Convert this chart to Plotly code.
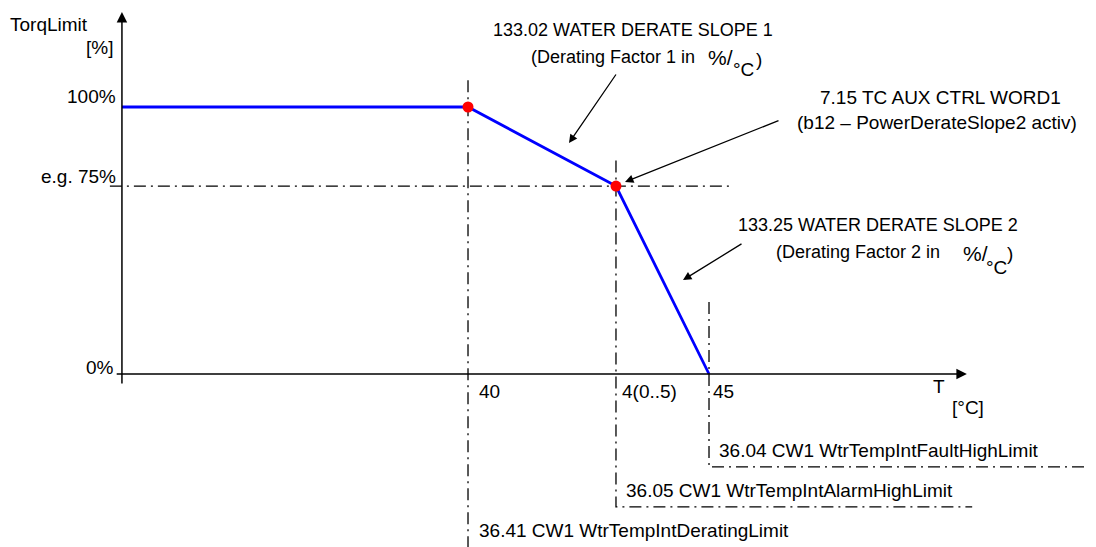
import plotly.graph_objects as go

# torque limit characteristic: temperature [°C] vs torque limit [%]
temp_pts = [32.82, 40.0, 43.07, 45.0]
torque_pts = [100, 100, 70.4, 0]

# breakpoints (red dots)
knee_temp = [40.0, 43.07]
knee_torque = [100, 70.4]

# limit temperatures
derate_T = 40.0
alarm_T = 43.07
fault_T = 45.0

y_tick_text = ["100%", "e.g. 75%", "0%"]
x_tick_text = ["40", "4(0..5)", "45"]

W, H = 1096, 547
OFF = 8  # page body margin
FONT = "Arial, Liberation Sans, sans-serif"
DASHDOT = "12px,5px,2px,5px"


def paper(px, py):
    return (px - OFF) / W, 1 - (py - OFF) / H


fig = go.Figure()

# dash-dot helper lines
ref_lines = [
    ([derate_T, derate_T], [110, -70]),
    ([alarm_T, alarm_T, 50.46], [80, -49.8, -49.8]),
    ([fault_T, fault_T, 53.3], [27, -34.8, -34.8]),
    ([32.57, 45.44], [knee_torque[1], knee_torque[1]]),
]
for xs, ys in ref_lines:
    fig.add_trace(go.Scatter(x=xs, y=ys, mode="lines", hoverinfo="skip",
                             line=dict(color="black", width=1.3, dash=DASHDOT)))

fig.add_trace(go.Scatter(x=temp_pts, y=torque_pts, mode="lines",
                         line=dict(color="#0000ff", width=2.8)))
fig.add_trace(go.Scatter(x=knee_temp, y=knee_torque, mode="markers",
                         marker=dict(color="#ff0000", size=11)))

annotations = []

# axes with arrow heads
annotations.append(dict(x=temp_pts[0], y=135.6, ax=temp_pts[0], ay=-4.1,
                        xref="x", yref="y", axref="x", ayref="y", text="",
                        showarrow=True, arrowhead=2, arrowsize=1.4,
                        arrowwidth=1.5, arrowcolor="black"))
annotations.append(dict(x=50.35, y=0, ax=32.68, ay=0,
                        xref="x", yref="y", axref="x", ayref="y", text="",
                        showarrow=True, arrowhead=2, arrowsize=1.4,
                        arrowwidth=1.5, arrowcolor="black"))

# pointer arrows: (tip px, tail px)
pointers = [((569, 143), (617, 73)), ((625, 182), (780, 120)), ((683, 280), (743, 243))]
for (tx, ty), (sx, sy) in pointers:
    x, y = paper(tx, ty)
    annotations.append(dict(x=x, y=y, xref="paper", yref="paper", text="",
                            ax=sx - tx, ay=sy - ty, showarrow=True, arrowhead=2,
                            arrowsize=1.3, arrowwidth=1.3, arrowcolor="black"))

# text labels: (text, px, py, anchor, size)
labels = [
    ("TorqLimit", 8, 24, "left", 19),
    ("[%]", 115, 48, "right", 19),
    (y_tick_text[0], 118, 96, "right", 19),
    (y_tick_text[1], 118, 176, "right", 19),
    (y_tick_text[2], 116, 367, "right", 19),
    (x_tick_text[0], 477, 391, "left", 19),
    (x_tick_text[1], 620, 391, "left", 19),
    (x_tick_text[2], 711, 391, "left", 19),
    ("T", 931, 386, "left", 19),
    ("[°C]", 950, 407, "left", 19),
    ("133.02 WATER DERATE SLOPE 1", 491, 30, "left", 18),
    ("(Derating Factor 1 in", 529, 57, "left", 18),
    ("%/", 706, 57, "left", 21),
    ("°C", 731, 70, "left", 19),
    (")", 754, 60, "left", 19),
    ("7.15 TC AUX CTRL WORD1", 940, 98, "center", 19),
    ("(b12 – PowerDerateSlope2 activ)", 937, 123, "center", 19),
    ("133.25 WATER DERATE SLOPE 2", 736, 225, "left", 18),
    ("(Derating Factor 2 in", 774, 252, "left", 18),
    ("%/", 961, 254, "left", 21),
    ("°C", 984, 267, "left", 19),
    (")", 1005, 254, "left", 19),
    ("36.04 CW1 WtrTempIntFaultHighLimit", 717, 450, "left", 19),
    ("36.05 CW1 WtrTempIntAlarmHighLimit", 624, 490, "left", 19),
    ("36.41 CW1 WtrTempIntDeratingLimit", 477, 530, "left", 19),
]
for text, px, py, anchor, size in labels:
    x, y = paper(px, py)
    annotations.append(dict(x=x, y=y, xref="paper", yref="paper", text=text,
                            showarrow=False, xanchor=anchor, yanchor="middle",
                            font=dict(family=FONT, size=size, color="black")))

fig.update_layout(
    width=W, height=H,
    margin=dict(l=0, r=0, t=0, b=0),
    paper_bgcolor="white", plot_bgcolor="white",
    showlegend=False,
    xaxis=dict(range=[30.456, 53.195], visible=False, fixedrange=True),
    yaxis=dict(range=[-67.79, 137.08], visible=False, fixedrange=True),
    annotations=annotations,
)

fig.write_html("out.html")
